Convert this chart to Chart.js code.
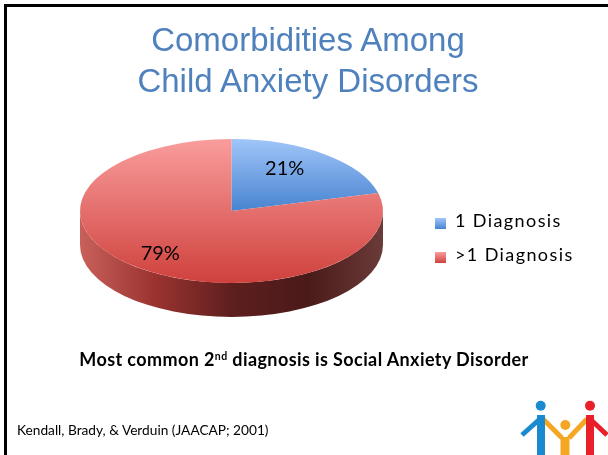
<!DOCTYPE html>
<html lang="en">
<head>
<meta charset="UTF-8">
<title>Comorbidities Among Child Anxiety Disorders</title>
<script src="https://cdn.jsdelivr.net/npm/chart.js@4.4.1/dist/chart.umd.min.js"></script>
<style>
    html, body { margin: 0; padding: 0; background: #fff; }
    #slide { position: relative; width: 608px; height: 455px; overflow: hidden; background: #fff; }
    #pie { position: absolute; left: 0; top: 0; }
    .frameTop { position: absolute; left: 4px; top: 4px; width: 604px; height: 3px; background: #000; }
    .frameLeft { position: absolute; left: 4px; top: 4px; width: 3px; height: 451px; background: #000; }
    .title { position: absolute; left: 0; width: 616px; text-align: center; font-family: "Liberation Sans", Arial, sans-serif;
             font-size: 33px; line-height: 41px; color: #4f81bd; white-space: nowrap; }
    .note { position: absolute; left: 0; width: 608px; text-align: center; font-family: Lato, sans-serif; font-weight: bold;
            font-size: 18px; line-height: 21.6px; letter-spacing: 0.4px; color: #000; white-space: nowrap; }
    .note sup { font-size: 10.5px; vertical-align: 6px; line-height: 0; }
    .cite { position: absolute; left: 17px; font-family: Lato, sans-serif; font-size: 13.7px; line-height: 16.4px; color: #000; white-space: nowrap; }
    .legendRow { position: absolute; left: 435px; font-family: Lato, sans-serif; font-size: 18px; line-height: 21.6px;
                 letter-spacing: 1.4px; color: #000; white-space: nowrap; }
    .legendRow span { position: absolute; left: 0; width: 11px; height: 11px; }
    .legendRow b { font-weight: normal; position: absolute; left: 20px; }
    #logo { position: absolute; left: 510px; top: 395px; }
</style>
</head>
<body>
<div id="slide">
    <canvas id="pie" width="608" height="455"></canvas>
    <div class="frameTop"></div>
    <div class="frameLeft"></div>
    <div class="title" style="top:19px">Comorbidities Among<br>Child Anxiety Disorders</div>
    <div id="legend"></div>
    <div class="note" style="top:349px">Most common 2<sup>nd</sup> diagnosis is Social Anxiety Disorder</div>
    <div class="cite" style="top:421.5px">Kendall, Brady, &amp; Verduin (JAACAP; 2001)</div>
    <svg id="logo" width="98" height="60" viewBox="510 395 98 60">
        <g fill="none" stroke-linecap="butt" stroke-linejoin="round">
            <polyline points="522,435 541,418" stroke="#1a8ad0" stroke-width="5"/>
            <polyline points="543,419 562,438" stroke="#f5a623" stroke-width="5"/>
            <polyline points="587,419 569,438" stroke="#f5a623" stroke-width="5"/>
            <polyline points="589,418 607,435" stroke="#e8202a" stroke-width="5"/>
            <line x1="541" y1="415" x2="541" y2="455" stroke="#1a8ad0" stroke-width="8"/>
            <line x1="565" y1="437" x2="565" y2="455" stroke="#f5a623" stroke-width="9"/>
            <line x1="590" y1="415" x2="590" y2="455" stroke="#e8202a" stroke-width="8"/>
        </g>
        <circle cx="540.7" cy="405.7" r="5" fill="#1a8ad0"/>
        <circle cx="565.3" cy="425" r="5" fill="#f5a623"/>
        <circle cx="590" cy="405.7" r="5" fill="#e8202a"/>
    </svg>
</div>

<script>
// chart data
const labels = ['1 Diagnosis', '>1 Diagnosis'];
const shares = [21, 79];

// top face colours (light, dark) and side wall colours per slice
const topColors = [['#a0c5f9', '#4884d0'], ['#f99d9c', '#cf413d']];
const sideColors = [['#7aa0d8', '#2c4f80'], ['#c8605b', '#9a3330', '#5e1f1e', '#4a1a19', '#6b3b3a']];

const TILT = 0.475;   // vertical squash of the pie
const DEPTH = 34;     // thickness of the disc

const total = shares.reduce((a, b) => a + b, 0);

function sliceAngles(i) {
    let a0 = -Math.PI / 2;
    for (let k = 0; k < i; k++) a0 += shares[k] / total * Math.PI * 2;
    return [a0, a0 + shares[i] / total * Math.PI * 2];
}

function contains(a0, a1, ang) {
    for (let k = -2; k <= 2; k++) {
        const t = ang + k * Math.PI * 2;
        if (t >= a0 && t <= a1) return true;
    }
    return false;
}

// vertical gradient across each slice's own extent
function topFill(c) {
    const chart = c.chart, area = chart.chartArea;
    const cols = topColors[c.dataIndex];
    if (!area) return cols[1];
    const [a0, a1] = sliceAngles(c.dataIndex);
    const ys = [0, Math.sin(a0), Math.sin(a1)];
    if (contains(a0, a1, Math.PI / 2)) ys.push(1);
    if (contains(a0, a1, -Math.PI / 2)) ys.push(-1);
    const r = Math.min(area.width, area.height) / 2;
    const cy = (area.top + area.bottom) / 2;
    const g = chart.ctx.createLinearGradient(0, cy + r * Math.min(...ys), 0, cy + r * Math.max(...ys));
    g.addColorStop(0, cols[0]);
    g.addColorStop(1, cols[1]);
    return g;
}

// parts of an arc that face the viewer (lower half of the ellipse)
function frontRanges(s, e) {
    const out = [];
    for (let k = -1; k <= 1; k++) {
        const lo = Math.max(s, k * Math.PI * 2);
        const hi = Math.min(e, k * Math.PI * 2 + Math.PI);
        if (lo < hi) out.push([lo, hi]);
    }
    return out;
}

const pie3d = {
    id: 'pie3d',
    beforeDatasetsDraw(chart) {
        const ctx = chart.ctx;
        const arcs = chart.getDatasetMeta(0).data;
        const cx = arcs[0].x, cy = arcs[0].y, r = arcs[0].outerRadius;
        const ry = r * TILT;

        ctx.save();
        arcs.forEach((arc, i) => {
            const g = ctx.createLinearGradient(cx - r, 0, cx + r, 0);
            const cols = sideColors[i];
            cols.forEach((col, j) => g.addColorStop(j / (cols.length - 1), col));
            frontRanges(arc.startAngle, arc.endAngle).forEach(([a, b]) => {
                ctx.beginPath();
                ctx.ellipse(cx, cy, r, ry, 0, a, b);
                ctx.ellipse(cx, cy + DEPTH, r, ry, 0, b, a, true);
                ctx.closePath();
                ctx.fillStyle = g;
                ctx.fill();
            });
        });
        ctx.restore();

        // squash the top face into an ellipse
        ctx.save();
        ctx.translate(0, cy);
        ctx.scale(1, TILT);
        ctx.translate(0, -cy);
    },
    afterDatasetsDraw(chart) {
        const ctx = chart.ctx;
        ctx.restore();

        // percentage labels
        const arcs = chart.getDatasetMeta(0).data;
        ctx.save();
        ctx.font = '20px Lato, sans-serif';
        ctx.fillStyle = '#000';
        ctx.textAlign = 'center';
        ctx.textBaseline = 'middle';
        arcs.forEach((arc, i) => {
            const mid = (arc.startAngle + arc.endAngle) / 2;
            const x = arc.x + Math.cos(mid) * arc.outerRadius * 0.67 - 9;
            const y = arc.y + Math.sin(mid) * arc.outerRadius * TILT * 0.75;
            ctx.fillText(shares[i] + '%', x, y);
        });
        ctx.restore();
    }
};

new Chart(document.getElementById('pie'), {
    type: 'pie',
    data: {
        labels: labels,
        datasets: [{
            data: shares,
            backgroundColor: topFill,
            borderWidth: 0
        }]
    },
    options: {
        responsive: false,
        animation: false,
        devicePixelRatio: 1,
        layout: { padding: { left: 80, right: 225, top: 59.5, bottom: 92.5 } },
        plugins: {
            legend: { display: false },
            tooltip: { enabled: false }
        },
        events: []
    },
    plugins: [pie3d]
});

// legend built from the same labels
const legend = document.getElementById('legend');
const rowTops = [210, 244];
labels.forEach((lab, i) => {
    const row = document.createElement('div');
    row.className = 'legendRow';
    row.style.top = rowTops[i] + 'px';
    const sw = document.createElement('span');
    sw.style.top = '8px';
    sw.style.background = 'linear-gradient(' + topColors[i][0] + ',' + topColors[i][1] + ')';
    const tx = document.createElement('b');
    tx.textContent = lab;
    row.appendChild(sw);
    row.appendChild(tx);
    legend.appendChild(row);
});
</script>
</body>
</html>
